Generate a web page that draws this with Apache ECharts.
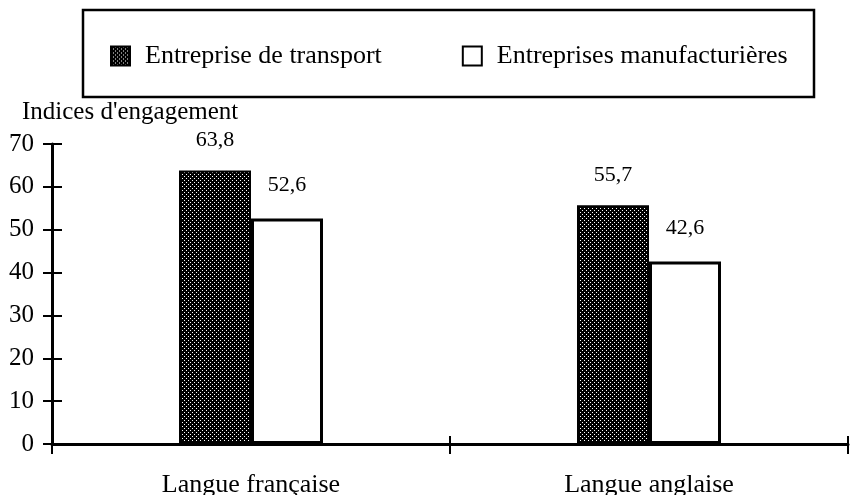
<!DOCTYPE html>
<html>
<head>
<meta charset="utf-8">
<script src="https://cdn.jsdelivr.net/npm/echarts@6/dist/echarts.min.js"></script>
<style>
  html, body { margin: 0; padding: 0; background: #fff; }
  #chart { width: 850px; height: 495px; }
</style>
</head>
<body>
<div id="chart"></div>
<script>
// données
const categories = ['Langue française', 'Langue anglaise']
const seriesNames = ['Entreprise de transport', 'Entreprises manufacturières']
const transport = [63.8, 55.7]
const manufacturieres = [52.6, 42.6]
const yTicks = [0, 10, 20, 30, 40, 50, 60, 70]

const serif = '"Liberation Serif", "DejaVu Serif", serif'

// trame pointillée pour les barres foncées
function makeDots () {
  const c = document.createElement('canvas')
  c.width = 4
  c.height = 4
  const ctx = c.getContext('2d')
  ctx.fillStyle = '#000'
  ctx.fillRect(0, 0, 4, 4)
  ctx.fillStyle = '#fff'
  ctx.fillRect(0, 0, 1, 1)
  ctx.fillRect(2, 2, 1, 1)
  return c
}
const dots = { image: makeDots(), repeat: 'repeat' }

const chart = echarts.init(document.getElementById('chart'), null, { renderer: 'canvas' })

const yMin = yTicks[0]
const yMax = yTicks[yTicks.length - 1]
const yStep = yTicks[1] - yTicks[0]

const labelFmt = p => String(p.value).replace('.', ',')

chart.setOption({
  animation: false,
  backgroundColor: '#fff',
  title: {
    text: "Indices d'engagement",
    left: 17,
    top: 95,
    textStyle: { fontFamily: serif, fontSize: 25, fontWeight: 'normal', color: '#000' }
  },
  graphic: [{
    type: 'rect',
    shape: { x: 83, y: 10, width: 731, height: 87 },
    style: { fill: 'none', stroke: '#000', lineWidth: 2.5 }
  }],
  legend: {
    left: 105,
    top: 38,
    itemGap: 80,
    itemWidth: 19,
    itemHeight: 19,
    icon: 'rect',
    selectedMode: false,
    textStyle: { fontFamily: serif, fontSize: 26, color: '#000', padding: [0, 0, 0, 10] },
    data: seriesNames
  },
  grid: { left: 52, right: 2, top: 144, bottom: 51, containLabel: false, outerBoundsMode: 'none' },
  xAxis: [{
    type: 'category',
    data: categories,
    boundaryGap: true,
    axisLine: { lineStyle: { color: '#000', width: 3 } },
    axisTick: { show: true, length: 10, lineStyle: { color: '#000', width: 2 } },
    axisLabel: { fontFamily: serif, fontSize: 26, color: '#000', margin: 28 }
  }, {
    type: 'category',
    data: categories,
    position: 'bottom',
    boundaryGap: true,
    axisLine: { show: false },
    axisTick: { show: true, inside: true, length: 8, lineStyle: { color: '#000', width: 2 } },
    axisLabel: { show: false }
  }],
  yAxis: [{
    type: 'value',
    min: yMin,
    max: yMax,
    interval: yStep,
    splitLine: { show: false },
    axisLine: { show: true, lineStyle: { color: '#000', width: 3 } },
    axisTick: { show: true, length: 9, lineStyle: { color: '#000', width: 2 } },
    axisLabel: { fontFamily: serif, fontSize: 25, color: '#000', margin: 18 }
  }, {
    type: 'value',
    position: 'left',
    min: yMin,
    max: yMax,
    interval: yStep,
    splitLine: { show: false },
    axisLine: { show: false },
    axisTick: { show: true, inside: true, length: 10, lineStyle: { color: '#000', width: 2 } },
    axisLabel: { show: false }
  }],
  series: [{
    name: seriesNames[0],
    type: 'bar',
    barWidth: 72,
    barGap: '0%',
    itemStyle: { color: dots, borderColor: '#000', borderWidth: 2 },
    label: {
      show: true, position: 'top', distance: 19,
      fontFamily: serif, fontSize: 22, color: '#000',
      formatter: labelFmt
    },
    data: transport
  }, {
    name: seriesNames[1],
    type: 'bar',
    barWidth: 72,
    barGap: '0%',
    itemStyle: { color: '#fff', borderColor: '#000', borderWidth: 3 },
    label: {
      show: true, position: 'top', distance: 22,
      fontFamily: serif, fontSize: 22, color: '#000',
      formatter: labelFmt
    },
    data: manufacturieres
  }]
})
</script>
</body>
</html>
